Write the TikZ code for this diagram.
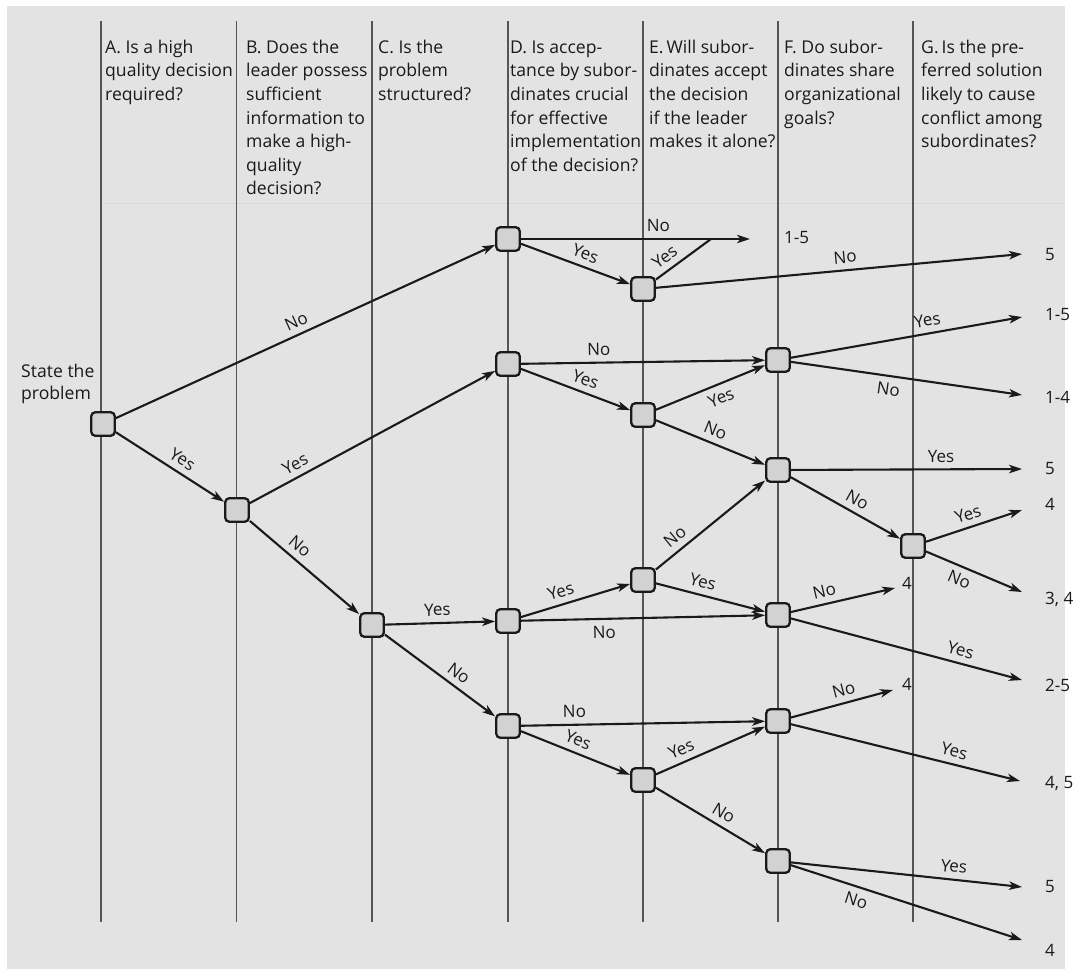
\documentclass[tikz,border=0pt]{standalone}
\usepackage{fontspec}
\setmainfont{Open Sans}
\usetikzlibrary{arrows.meta}

\definecolor{panel}{HTML}{E3E3E3}
\definecolor{boxfill}{HTML}{D2D2D2}
\definecolor{colrule}{HTML}{555555}
\definecolor{ink}{HTML}{1A1A1A}
\definecolor{headrule}{HTML}{D8D8D8}

\tikzset{
  decbox/.style={draw=ink, line width=2.3pt, fill=boxfill, rounded corners=4pt,
                 minimum size=23.5pt, inner sep=0pt},
  link/.style={draw=ink, line width=2.1pt},
  arr/.style={link, -{Stealth[length=13pt,width=8.5pt,inset=3.5pt]}},
  lab/.style={sloped, inner sep=1pt, text=ink, font=\fontsize{17}{19}\selectfont},
  la/.style={lab, above=5pt},
  lb/.style={lab, below=5pt},
  outc/.style={anchor=west, inner sep=0pt, text=ink, font=\fontsize{17}{19}\selectfont},
  head/.style={anchor=north west, inner sep=0pt, align=left, text=ink,
               font=\fontsize{17.6}{23.6}\selectfont},
}

\begin{document}
\begin{tikzpicture}[x=1pt,y=-1pt]
\useasboundingbox (0,0) rectangle (1081,969);
\fill[white] (0,0) rectangle (1081,969);
\fill[panel] (7,6) rectangle (1065,969);

% faint rule under the question headers
\draw[headrule, line width=1pt] (101,203) -- (1062,203);

% question columns
\foreach \x in {101,236.5,372,508,643,778,913}
  \draw[colrule, line width=1.5pt] (\x,21) -- (\x,922);

% column headings (first baseline at y = 53)
\newcommand{\hs}{\rule{0pt}{14pt}}
\node[head] (hA) at (105,39) {\hs A. Is a high\\quality decision\\required?};
\node[head] (hB) at (246,39) {\hs B. Does the\\leader possess\\sufficient\\information to\\make a high-\\quality\\decision?};
\node[head] (hC) at (378,39) {\hs C. Is the\\problem\\structured?};
\node[head] (hD) at (510,39) {\hs D. Is accep-\\tance by subor-\\dinates crucial\\for effective\\implementation\\of the decision?};
\node[head] (hE) at (649,39) {\hs E.\,Will subor-\\dinates accept\\the decision\\if the leader\\makes it alone?};
\node[head] (hF) at (784,39) {\hs F. Do subor-\\dinates share\\organizational\\goals?};
\node[head] (hG) at (921,39) {\hs G.\,Is the pre-\\ferred solution\\likely to cause\\conflict among\\subordinates?};

\node[head, font=\fontsize{17.6}{22}\selectfont] (start) at (21,363) {\hs State the\\problem};

% decision points
\node[decbox] (S)  at (103,424) {};
\node[decbox] (B)  at (237,510) {};
\node[decbox] (C)  at (372,625) {};
\node[decbox] (D1) at (508,239) {};
\node[decbox] (D2) at (508,364) {};
\node[decbox] (D3) at (508,621) {};
\node[decbox] (D4) at (508,726) {};
\node[decbox] (E1) at (643,289) {};
\node[decbox] (E2) at (643,415) {};
\node[decbox] (E3) at (643,580) {};
\node[decbox] (E4) at (643,780) {};
\node[decbox] (F1) at (778,360) {};
\node[decbox] (F2) at (778,470) {};
\node[decbox] (F3) at (778,615) {};
\node[decbox] (F4) at (778,721) {};
\node[decbox] (F5) at (778,861) {};
\node[decbox] (G)  at (913,546) {};

% feasible sets
\node[outc] (o1)  at (784,238)  {1-5};
\node[outc] (o2)  at (1045,255) {5};
\node[outc] (o3)  at (1045,315) {1-5};
\node[outc] (o4)  at (1045,397) {1-4};
\node[outc] (o5)  at (1045,469) {5};
\node[outc] (o6)  at (1045,504) {4};
\node[outc] (o7)  at (1045,599) {3, 4};
\node[outc] (o8)  at (902,583)  {4};
\node[outc] (o9)  at (1045,685) {2-5};
\node[outc] (o10) at (902,684)  {4};
\node[outc] (o11) at (1045,783) {4, 5};
\node[outc] (o12) at (1045,887) {5};
\node[outc] (o13) at (1045,950) {4};

% arrow ends
\coordinate (t1)  at (750,239);
\coordinate (j1)  at (711,239);
\coordinate (t2)  at (1022,254);
\coordinate (t3)  at (1022,317);
\coordinate (t4)  at (1022,395);
\coordinate (t5)  at (1022,469);
\coordinate (t6)  at (1022,510);
\coordinate (t7)  at (1022,592);
\coordinate (t8)  at (895,588);
\coordinate (t9)  at (1022,680);
\coordinate (t10) at (893,690);
\coordinate (t11) at (1020,781);
\coordinate (t12) at (1022,887);
\coordinate (t13) at (1022,940);

% branches
\draw[arr] (S)  -- node[la,pos=.49]{No}  (D1);
\draw[arr] (S)  -- node[la,pos=.55]{Yes} (B);
\draw[arr] (B)  -- node[la,pos=.21]{Yes} (D2);
\draw[arr] (B)  -- node[la,pos=.38]{No}  (C);
\draw[arr] (C)  -- node[la,pos=.48]{Yes} (D3);
\draw[arr] (C)  -- node[la,pos=.6]{No}   (D4);

\draw[arr]  (D1) -- node[la,pos=.6]{No}   (t1);
\draw[arr]  (D1) -- node[la,pos=.55]{Yes} (E1);
\draw[link] (E1) -- node[la,pos=.3]{Yes}  (j1);
\draw[arr]  (E1) -- node[la,pos=.52]{No}  (t2);

\draw[arr] (D2) -- node[la,pos=.32]{No}  (F1);
\draw[arr] (D2) -- node[la,pos=.55]{Yes} (E2);
\draw[arr] (E2) -- node[lb,pos=.55]{Yes} (F1);
\draw[arr] (E2) -- node[la,pos=.5]{No}   (F2);
\draw[arr] (F1) -- node[la,pos=.6]{Yes}  (t3);
\draw[arr] (F1) -- node[lb,pos=.43]{No}  (t4);
\draw[arr] (F2) -- node[la,pos=.65]{Yes} (t5);
\draw[arr] (F2) -- node[la,pos=.55]{No}  (G);
\draw[arr] (G)  -- node[la,pos=.48]{Yes} (t6);
\draw[arr] (G)  -- node[lb,pos=.4]{No}   (t7);

\draw[arr] (D3) -- node[la,pos=.4]{Yes}  (E3);
\draw[arr] (D3) -- node[lb,pos=.34]{No}  (F3);
\draw[arr] (E3) -- node[la,pos=.25]{No}  (F2);
\draw[arr] (E3) -- node[la,pos=.4]{Yes}  (F3);
\draw[arr] (F3) -- node[la,pos=.35]{No}  (t8);
\draw[arr] (F3) -- node[la,pos=.72]{Yes} (t9);

\draw[arr] (D4) -- node[la,pos=.22]{No}  (F4);
\draw[arr] (D4) -- node[la,pos=.48]{Yes} (E4);
\draw[arr] (E4) -- node[la,pos=.28]{Yes} (F4);
\draw[arr] (E4) -- node[la,pos=.56]{No}  (F5);
\draw[arr] (F4) -- node[la,pos=.55]{No}  (t10);
\draw[arr] (F4) -- node[la,pos=.7]{Yes}  (t11);
\draw[arr] (F5) -- node[la,pos=.7]{Yes}  (t12);
\draw[arr] (F5) -- node[lb,pos=.3]{No}   (t13);
\end{tikzpicture}
\end{document}
